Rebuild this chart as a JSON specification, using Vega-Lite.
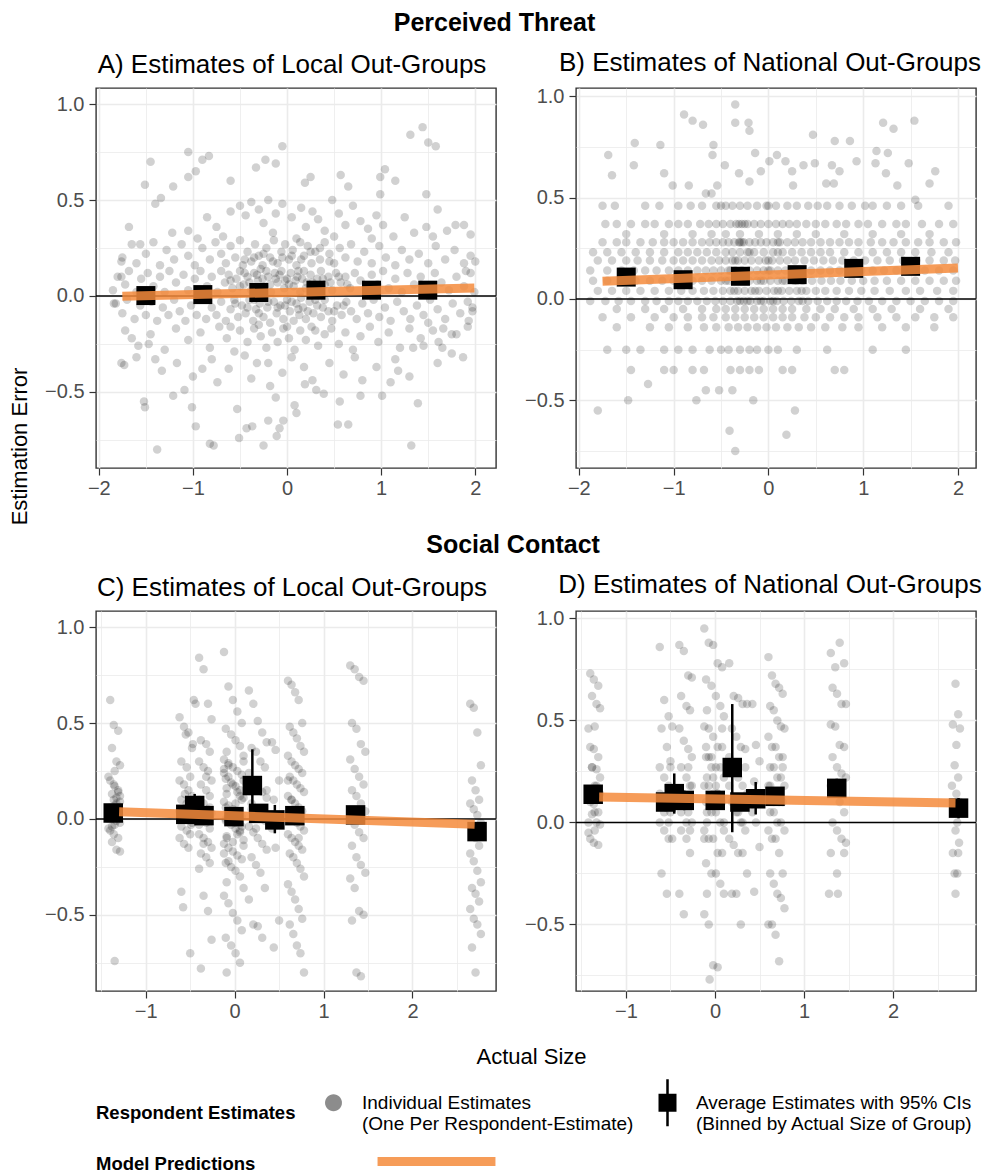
{
"$schema": "https://vega.github.io/schema/vega-lite/v6.json",
"background": "white",
"padding": {"left": 7, "top": 10, "right": 3, "bottom": 3},
"config": {
  "font": "Liberation Sans",
  "view": {"stroke": "#333333", "strokeWidth": 1.4},
  "axis": {"domain": false, "grid": true, "gridColor": "#EBEBEB", "tickColor": "#333333", "tickSize": 7, "tickWidth": 1.2, "labelColor": "#4D4D4D", "labelFontSize": 20, "labelFont": "Liberation Sans", "titleFont": "Liberation Sans", "titleFontSize": 22, "titleFontWeight": "normal", "titleColor": "black", "labelFlush": false, "labelOverlap": false}
},
"datasets": {
"A": [
{"x":1.31,"y":0.84},{"x":1.44,"y":0.88},{"x":1.5,"y":0.8},{"x":1.58,"y":0.78},{"x":-0.05,"y":0.78},{"x":-0.23,"y":0.71},{"x":-0.12,"y":0.69},{"x":-0.33,"y":0.67},{"x":-1.05,"y":0.75},{"x":-0.9,"y":0.71},{"x":-0.83,"y":0.73},{"x":-1.45,"y":0.7},{"x":-0.97,"y":0.65},{"x":-1.05,"y":0.62},{"x":-1.51,"y":0.58},{"x":-1.21,"y":0.57},{"x":-0.6,"y":0.6},{"x":0.19,"y":0.59},{"x":0.25,"y":0.62},{"x":0.57,"y":0.63},{"x":0.65,"y":0.57},{"x":0.99,"y":0.62},{"x":1.04,"y":0.66},{"x":1.15,"y":0.6},{"x":1.48,"y":0.53},{"x":0.99,"y":0.53},{"x":-1.4,"y":0.48},{"x":-1.34,"y":0.51},{"x":-1.68,"y":0.36},{"x":-1.56,"y":0.27},{"x":-1.76,"y":0.18},{"x":-1.76,"y":0.1},{"x":-1.84,"y":-0.04},{"x":1.88,"y":0.37},{"x":1.79,"y":0.37},{"x":1.95,"y":0.32},{"x":2.0,"y":0.18},{"x":1.9,"y":0.13},{"x":1.97,"y":-0.06},{"x":1.93,"y":-0.13},{"x":1.87,"y":-0.32},{"x":1.75,"y":-0.2},{"x":1.66,"y":-0.17},{"x":1.39,"y":-0.56},{"x":1.32,"y":-0.78},{"x":-1.38,"y":-0.8},{"x":-1.52,"y":-0.55},{"x":-1.51,"y":-0.58},{"x":-1.76,"y":-0.35},{"x":-1.73,"y":-0.36},{"x":-1.65,"y":-0.22},{"x":-1.6,"y":-0.32},{"x":-1.47,"y":-0.25},{"x":-1.33,"y":-0.39},{"x":-1.21,"y":-0.52},{"x":-1.17,"y":-0.35},{"x":-1.09,"y":-0.49},{"x":-1.01,"y":-0.58},{"x":-0.97,"y":-0.68},{"x":-0.9,"y":-0.38},{"x":-0.82,"y":-0.77},{"x":-0.78,"y":-0.78},{"x":-0.74,"y":-0.45},{"x":-0.53,"y":-0.59},{"x":-0.51,"y":-0.74},{"x":-0.43,"y":-0.69},{"x":-0.37,"y":-0.68},{"x":-0.32,"y":-0.35},{"x":-0.25,"y":-0.78},{"x":-0.2,"y":-0.65},{"x":-0.11,"y":-0.73},{"x":-0.08,"y":-0.69},{"x":-0.04,"y":-0.65},{"x":-0.18,"y":-0.47},{"x":-0.12,"y":-0.53},{"x":0.08,"y":-0.57},{"x":0.1,"y":-0.61},{"x":0.19,"y":-0.46},{"x":0.31,"y":-0.49},{"x":0.39,"y":-0.51},{"x":0.54,"y":-0.67},{"x":0.65,"y":-0.67},{"x":0.56,"y":-0.55},{"x":0.78,"y":-0.52},{"x":0.8,"y":-0.44},{"x":1.01,"y":-0.52},{"x":1.1,"y":-0.45},{"x":1.18,"y":-0.39},{"x":1.34,"y":-0.27},{"x":1.45,"y":-0.26},{"x":1.61,"y":-0.24},{"x":1.5,"y":-0.14},
{"x":-1.22,"y":0.33},{"x":-1.05,"y":0.34},{"x":-0.85,"y":0.41},{"x":-0.75,"y":0.36},{"x":-0.6,"y":0.44},{"x":-0.5,"y":0.47},{"x":-0.44,"y":0.42},{"x":-0.38,"y":0.49},{"x":-0.3,"y":0.45},{"x":-0.25,"y":0.38},{"x":-0.2,"y":0.5},{"x":-0.12,"y":0.43},{"x":-0.05,"y":0.48},{"x":0.05,"y":0.41},{"x":0.15,"y":0.46},{"x":0.2,"y":0.36},{"x":0.27,"y":0.44},{"x":0.33,"y":0.4},{"x":0.4,"y":0.34},{"x":0.48,"y":0.5},{"x":0.55,"y":0.43},{"x":0.62,"y":0.37},{"x":0.7,"y":0.47},{"x":0.78,"y":0.39},{"x":0.86,"y":0.35},{"x":0.95,"y":0.42},{"x":1.02,"y":0.37},{"x":1.13,"y":0.31},{"x":1.25,"y":0.41},{"x":1.35,"y":0.33},{"x":1.48,"y":0.36},{"x":1.55,"y":0.31},{"x":1.7,"y":0.34},{"x":1.6,"y":0.45},{"x":-0.95,"y":0.3},{"x":-0.68,"y":0.31},{"x":-0.15,"y":0.33},{"x":0.1,"y":0.3},{"x":0.5,"y":0.31},{"x":0.9,"y":0.3},
{"x":-1.75,"y":0.2},{"x":-1.65,"y":0.27},{"x":-1.6,"y":0.17},{"x":-1.5,"y":0.22},{"x":-1.42,"y":0.28},{"x":-1.35,"y":0.16},{"x":-1.28,"y":0.24},{"x":-1.2,"y":0.19},{"x":-1.12,"y":0.27},{"x":-1.05,"y":0.21},{"x":-0.98,"y":0.16},{"x":-0.9,"y":0.25},{"x":-0.82,"y":0.19},{"x":-0.76,"y":0.28},{"x":-0.7,"y":0.22},{"x":-0.65,"y":0.17},{"x":-0.6,"y":0.26},{"x":-0.55,"y":0.2},{"x":-0.5,"y":0.29},{"x":-0.47,"y":0.16},{"x":-0.42,"y":0.23},{"x":-0.38,"y":0.18},{"x":-0.34,"y":0.27},{"x":-0.3,"y":0.21},{"x":-0.26,"y":0.16},{"x":-0.22,"y":0.25},{"x":-0.18,"y":0.2},{"x":-0.14,"y":0.29},{"x":-0.1,"y":0.17},{"x":-0.06,"y":0.23},{"x":-0.02,"y":0.27},{"x":0.02,"y":0.19},{"x":0.06,"y":0.24},{"x":0.1,"y":0.16},{"x":0.14,"y":0.28},{"x":0.18,"y":0.21},{"x":0.22,"y":0.26},{"x":0.26,"y":0.17},{"x":0.3,"y":0.23},{"x":0.35,"y":0.19},{"x":0.4,"y":0.28},{"x":0.45,"y":0.22},{"x":0.5,"y":0.17},{"x":0.56,"y":0.25},{"x":0.62,"y":0.2},{"x":0.68,"y":0.27},{"x":0.75,"y":0.18},{"x":0.82,"y":0.23},{"x":0.9,"y":0.17},{"x":0.98,"y":0.26},{"x":1.05,"y":0.2},{"x":1.15,"y":0.16},{"x":1.22,"y":0.24},{"x":1.3,"y":0.19},{"x":1.4,"y":0.22},{"x":1.5,"y":0.17},{"x":1.58,"y":0.26},{"x":1.68,"y":0.19},{"x":1.78,"y":0.24},{"x":1.88,"y":0.17},{"x":1.95,"y":0.21},{"x":-0.35,"y":0.2},{"x":-0.25,"y":0.22},{"x":-0.15,"y":0.18},{"x":-0.05,"y":0.2},{"x":0.05,"y":0.21},{"x":0.15,"y":0.19},{"x":0.25,"y":0.23},{"x":0.35,"y":0.25},{"x":-0.45,"y":0.19},{"x":0.45,"y":0.18},
{"x":-1.85,"y":0.03},{"x":-1.8,"y":0.1},{"x":-1.72,"y":0.06},{"x":-1.68,"y":0.13},{"x":-1.6,"y":0.02},{"x":-1.55,"y":0.09},{"x":-1.48,"y":0.12},{"x":-1.42,"y":0.05},{"x":-1.35,"y":0.1},{"x":-1.3,"y":0.02},{"x":-1.25,"y":0.13},{"x":-1.18,"y":0.07},{"x":-1.1,"y":0.11},{"x":-1.05,"y":0.03},{"x":-0.98,"y":0.09},{"x":-0.92,"y":0.13},{"x":-0.85,"y":0.05},{"x":-0.8,"y":0.1},{"x":-0.74,"y":0.02},{"x":-0.7,"y":0.13},{"x":-0.66,"y":0.07},{"x":-0.62,"y":0.11},{"x":-0.58,"y":0.04},{"x":-0.54,"y":0.09},{"x":-0.5,"y":0.13},{"x":-0.46,"y":0.06},{"x":-0.42,"y":0.1},{"x":-0.38,"y":0.03},{"x":-0.35,"y":0.12},{"x":-0.31,"y":0.08},{"x":-0.28,"y":0.14},{"x":-0.24,"y":0.05},{"x":-0.2,"y":0.1},{"x":-0.17,"y":0.02},{"x":-0.13,"y":0.12},{"x":-0.1,"y":0.07},{"x":-0.06,"y":0.13},{"x":-0.03,"y":0.04},{"x":0.0,"y":0.09},{"x":0.04,"y":0.12},{"x":0.07,"y":0.05},{"x":0.11,"y":0.1},{"x":0.14,"y":0.02},{"x":0.18,"y":0.13},{"x":0.21,"y":0.07},{"x":0.25,"y":0.11},{"x":0.28,"y":0.03},{"x":0.32,"y":0.09},{"x":0.36,"y":0.13},{"x":0.4,"y":0.06},{"x":0.44,"y":0.1},{"x":0.48,"y":0.03},{"x":0.52,"y":0.12},{"x":0.57,"y":0.07},{"x":0.62,"y":0.1},{"x":0.67,"y":0.04},{"x":0.72,"y":0.12},{"x":0.78,"y":0.08},{"x":0.84,"y":0.03},{"x":0.9,"y":0.11},{"x":0.96,"y":0.06},{"x":1.02,"y":0.13},{"x":1.08,"y":0.04},{"x":1.15,"y":0.09},{"x":1.22,"y":0.02},{"x":1.28,"y":0.12},{"x":1.35,"y":0.06},{"x":1.42,"y":0.1},{"x":1.5,"y":0.04},{"x":1.57,"y":0.12},{"x":1.64,"y":0.07},{"x":1.72,"y":0.03},{"x":1.8,"y":0.1},{"x":1.88,"y":0.05},{"x":1.95,"y":0.12},{"x":1.99,"y":0.02},{"x":-0.6,"y":0.08},{"x":-0.5,"y":0.05},{"x":-0.4,"y":0.07},{"x":-0.32,"y":0.11},{"x":-0.26,"y":0.09},{"x":-0.18,"y":0.06},{"x":-0.12,"y":0.09},{"x":-0.08,"y":0.11},{"x":-0.02,"y":0.08},{"x":0.02,"y":0.06},{"x":0.09,"y":0.08},{"x":0.16,"y":0.09},{"x":0.2,"y":0.04},{"x":0.27,"y":0.07},{"x":0.33,"y":0.05},{"x":0.38,"y":0.09},{"x":0.46,"y":0.07},{"x":0.55,"y":0.1},{"x":0.64,"y":0.06},{"x":-0.45,"y":0.12},{"x":-0.22,"y":0.13},{"x":0.12,"y":0.13},
{"x":-1.82,"y":-0.04},{"x":-1.75,"y":-0.09},{"x":-1.7,"y":-0.02},{"x":-1.62,"y":-0.12},{"x":-1.56,"y":-0.05},{"x":-1.5,"y":-0.1},{"x":-1.44,"y":-0.03},{"x":-1.38,"y":-0.13},{"x":-1.32,"y":-0.06},{"x":-1.26,"y":-0.1},{"x":-1.2,"y":-0.02},{"x":-1.14,"y":-0.08},{"x":-1.08,"y":-0.13},{"x":-1.02,"y":-0.05},{"x":-0.96,"y":-0.1},{"x":-0.9,"y":-0.02},{"x":-0.86,"y":-0.12},{"x":-0.8,"y":-0.06},{"x":-0.75,"y":-0.1},{"x":-0.7,"y":-0.03},{"x":-0.65,"y":-0.13},{"x":-0.6,"y":-0.07},{"x":-0.56,"y":-0.02},{"x":-0.52,"y":-0.11},{"x":-0.48,"y":-0.05},{"x":-0.44,"y":-0.09},{"x":-0.4,"y":-0.02},{"x":-0.36,"y":-0.13},{"x":-0.33,"y":-0.07},{"x":-0.29,"y":-0.04},{"x":-0.25,"y":-0.11},{"x":-0.21,"y":-0.06},{"x":-0.18,"y":-0.14},{"x":-0.14,"y":-0.03},{"x":-0.11,"y":-0.09},{"x":-0.07,"y":-0.05},{"x":-0.04,"y":-0.12},{"x":0.0,"y":-0.02},{"x":0.03,"y":-0.08},{"x":0.07,"y":-0.13},{"x":0.1,"y":-0.04},{"x":0.13,"y":-0.1},{"x":0.17,"y":-0.06},{"x":0.2,"y":-0.12},{"x":0.24,"y":-0.03},{"x":0.28,"y":-0.09},{"x":0.32,"y":-0.05},{"x":0.36,"y":-0.11},{"x":0.4,"y":-0.02},{"x":0.44,"y":-0.08},{"x":0.48,"y":-0.13},{"x":0.53,"y":-0.05},{"x":0.58,"y":-0.1},{"x":0.63,"y":-0.03},{"x":0.68,"y":-0.08},{"x":0.74,"y":-0.12},{"x":0.8,"y":-0.04},{"x":0.86,"y":-0.09},{"x":0.92,"y":-0.02},{"x":0.98,"y":-0.11},{"x":1.04,"y":-0.06},{"x":1.1,"y":-0.13},{"x":1.17,"y":-0.03},{"x":1.24,"y":-0.08},{"x":1.31,"y":-0.12},{"x":1.38,"y":-0.05},{"x":1.45,"y":-0.1},{"x":1.52,"y":-0.02},{"x":1.6,"y":-0.07},{"x":1.68,"y":-0.12},{"x":1.76,"y":-0.04},{"x":1.84,"y":-0.09},{"x":1.92,"y":-0.03},{"x":1.97,"y":-0.08},{"x":-0.55,"y":-0.04},{"x":-0.42,"y":-0.06},{"x":-0.3,"y":-0.09},{"x":-0.2,"y":-0.03},{"x":-0.1,"y":-0.06},{"x":-0.02,"y":-0.05},{"x":0.05,"y":-0.03},{"x":0.12,"y":-0.07},{"x":0.22,"y":-0.08},{"x":0.3,"y":-0.02},{"x":0.38,"y":-0.06},{"x":0.5,"y":-0.08},{"x":0.6,"y":-0.05},{"x":-0.35,"y":-0.02},{"x":0.15,"y":-0.01},
{"x":-1.72,"y":-0.18},{"x":-1.58,"y":-0.26},{"x":-1.45,"y":-0.2},{"x":-1.3,"y":-0.28},{"x":-1.18,"y":-0.17},{"x":-1.05,"y":-0.23},{"x":-0.92,"y":-0.19},{"x":-0.82,"y":-0.27},{"x":-0.72,"y":-0.16},{"x":-0.64,"y":-0.22},{"x":-0.56,"y":-0.29},{"x":-0.5,"y":-0.18},{"x":-0.42,"y":-0.24},{"x":-0.35,"y":-0.17},{"x":-0.28,"y":-0.21},{"x":-0.22,"y":-0.27},{"x":-0.16,"y":-0.19},{"x":-0.1,"y":-0.24},{"x":-0.04,"y":-0.17},{"x":0.02,"y":-0.22},{"x":0.08,"y":-0.28},{"x":0.14,"y":-0.18},{"x":0.2,"y":-0.23},{"x":0.26,"y":-0.16},{"x":0.33,"y":-0.26},{"x":0.4,"y":-0.2},{"x":0.47,"y":-0.17},{"x":0.55,"y":-0.25},{"x":0.62,"y":-0.19},{"x":0.7,"y":-0.28},{"x":0.78,"y":-0.21},{"x":0.88,"y":-0.16},{"x":0.97,"y":-0.24},{"x":1.08,"y":-0.19},{"x":1.2,"y":-0.27},{"x":1.3,"y":-0.17},{"x":1.42,"y":-0.22},{"x":1.55,"y":-0.18},{"x":1.65,"y":-0.27},{"x":1.8,"y":-0.2},{"x":1.92,"y":-0.16},{"x":-0.3,"y":-0.15},{"x":0.0,"y":-0.16},{"x":0.3,"y":-0.18},{"x":-0.6,"y":-0.16},
{"x":-1.4,"y":-0.33},{"x":-1.0,"y":-0.42},{"x":-0.8,"y":-0.33},{"x":-0.62,"y":-0.38},{"x":-0.45,"y":-0.31},{"x":-0.38,"y":-0.43},{"x":-0.2,"y":-0.35},{"x":-0.05,"y":-0.4},{"x":0.05,"y":-0.32},{"x":0.18,"y":-0.37},{"x":0.27,"y":-0.44},{"x":0.45,"y":-0.35},{"x":0.6,"y":-0.41},{"x":0.72,"y":-0.32},{"x":0.95,"y":-0.37},{"x":1.15,"y":-0.33},{"x":1.3,"y":-0.42},{"x":1.6,"y":-0.35},{"x":1.75,"y":-0.3}
],
"B": [
{"x":-0.35,"y":0.96},{"x":-0.89,"y":0.91},{"x":-0.8,"y":0.88},{"x":-0.69,"y":0.86},{"x":-0.35,"y":0.87},{"x":-0.21,"y":0.87},{"x":-0.2,"y":0.83},{"x":0.47,"y":0.81},{"x":1.21,"y":0.87},{"x":1.32,"y":0.84},{"x":1.54,"y":0.88},{"x":0.7,"y":0.78},{"x":0.86,"y":0.78},{"x":-1.69,"y":0.71},{"x":-1.41,"y":0.77},{"x":-1.14,"y":0.76},{"x":-1.42,"y":0.66},{"x":-1.65,"y":0.61},{"x":-1.1,"y":0.62},{"x":-0.58,"y":0.76},{"x":-0.59,"y":0.71},{"x":-0.46,"y":0.66},{"x":-0.14,"y":0.72},{"x":0.01,"y":0.68},{"x":0.09,"y":0.71},{"x":0.18,"y":0.68},{"x":0.25,"y":0.63},{"x":0.37,"y":0.66},{"x":0.49,"y":0.67},{"x":0.67,"y":0.66},{"x":0.75,"y":0.63},{"x":0.93,"y":0.68},{"x":1.14,"y":0.73},{"x":1.26,"y":0.72},{"x":1.13,"y":0.67},{"x":1.48,"y":0.67},{"x":1.76,"y":0.63},{"x":1.7,"y":0.57},{"x":1.36,"y":0.56},{"x":1.24,"y":0.62},{"x":0.61,"y":0.57},{"x":0.69,"y":0.57},{"x":0.26,"y":0.56},{"x":-0.31,"y":0.62},{"x":-0.2,"y":0.58},{"x":-0.08,"y":0.63},{"x":-1.01,"y":0.56},{"x":-0.84,"y":0.56},{"x":-0.54,"y":0.56},{"x":-0.66,"y":0.52},{"x":-0.6,"y":0.52},{"x":1.55,"y":0.49},{"x":-1.48,"y":-0.5},{"x":-1.8,"y":-0.55},{"x":-1.27,"y":-0.42},{"x":-0.76,"y":-0.5},{"x":-0.66,"y":-0.45},{"x":-0.52,"y":-0.45},{"x":-0.38,"y":-0.45},{"x":-0.16,"y":-0.5},{"x":0.28,"y":-0.55},{"x":-0.41,"y":-0.65},{"x":0.19,"y":-0.67},{"x":-0.35,"y":-0.75},
{"x":-1.75,"y":0.46},{"x":-1.62,"y":0.46},{"x":-1.3,"y":0.46},{"x":-1.15,"y":0.46},{"x":-0.95,"y":0.46},{"x":-0.82,"y":0.46},{"x":-0.7,"y":0.46},{"x":-0.55,"y":0.46},{"x":-0.45,"y":0.46},{"x":-0.38,"y":0.46},{"x":-0.3,"y":0.46},{"x":-0.22,"y":0.46},{"x":-0.12,"y":0.46},{"x":-0.02,"y":0.46},{"x":0.08,"y":0.46},{"x":0.2,"y":0.46},{"x":0.3,"y":0.46},{"x":0.42,"y":0.46},{"x":0.52,"y":0.46},{"x":0.62,"y":0.46},{"x":0.75,"y":0.46},{"x":0.88,"y":0.46},{"x":1.02,"y":0.46},{"x":1.1,"y":0.46},{"x":1.25,"y":0.46},{"x":1.4,"y":0.46},{"x":1.58,"y":0.46},{"x":1.9,"y":0.46},{"x":-0.5,"y":0.46},{"x":0.0,"y":0.46},
{"x":-1.72,"y":0.37},{"x":-1.6,"y":0.37},{"x":-1.45,"y":0.37},{"x":-1.3,"y":0.37},{"x":-1.2,"y":0.37},{"x":-1.05,"y":0.37},{"x":-0.95,"y":0.37},{"x":-0.85,"y":0.37},{"x":-0.72,"y":0.37},{"x":-0.63,"y":0.37},{"x":-0.55,"y":0.37},{"x":-0.48,"y":0.37},{"x":-0.4,"y":0.37},{"x":-0.34,"y":0.37},{"x":-0.28,"y":0.37},{"x":-0.22,"y":0.37},{"x":-0.15,"y":0.37},{"x":-0.08,"y":0.37},{"x":0.0,"y":0.37},{"x":0.08,"y":0.37},{"x":0.15,"y":0.37},{"x":0.22,"y":0.37},{"x":0.3,"y":0.37},{"x":0.4,"y":0.37},{"x":0.5,"y":0.37},{"x":0.6,"y":0.37},{"x":0.72,"y":0.37},{"x":0.82,"y":0.37},{"x":0.95,"y":0.37},{"x":1.05,"y":0.37},{"x":1.2,"y":0.37},{"x":1.35,"y":0.37},{"x":1.45,"y":0.37},{"x":1.62,"y":0.37},{"x":1.8,"y":0.37},{"x":1.95,"y":0.37},{"x":-0.31,"y":0.37},{"x":-0.25,"y":0.37},
{"x":-1.5,"y":0.32},{"x":-1.1,"y":0.32},{"x":-0.8,"y":0.32},{"x":-0.6,"y":0.32},{"x":-0.45,"y":0.32},{"x":-0.3,"y":0.32},{"x":-0.1,"y":0.32},{"x":0.1,"y":0.32},{"x":0.3,"y":0.32},{"x":0.5,"y":0.32},{"x":0.8,"y":0.32},{"x":1.1,"y":0.32},{"x":1.4,"y":0.32},{"x":1.7,"y":0.32},
{"x":-1.75,"y":0.28},{"x":-1.6,"y":0.28},{"x":-1.5,"y":0.28},{"x":-1.35,"y":0.28},{"x":-1.22,"y":0.28},{"x":-1.1,"y":0.28},{"x":-1.0,"y":0.28},{"x":-0.9,"y":0.28},{"x":-0.8,"y":0.28},{"x":-0.7,"y":0.28},{"x":-0.62,"y":0.28},{"x":-0.55,"y":0.28},{"x":-0.48,"y":0.28},{"x":-0.42,"y":0.28},{"x":-0.36,"y":0.28},{"x":-0.31,"y":0.28},{"x":-0.26,"y":0.28},{"x":-0.2,"y":0.28},{"x":-0.14,"y":0.28},{"x":-0.08,"y":0.28},{"x":-0.02,"y":0.28},{"x":0.05,"y":0.28},{"x":0.12,"y":0.28},{"x":0.2,"y":0.28},{"x":0.28,"y":0.28},{"x":0.36,"y":0.28},{"x":0.45,"y":0.28},{"x":0.55,"y":0.28},{"x":0.65,"y":0.28},{"x":0.75,"y":0.28},{"x":0.85,"y":0.28},{"x":0.95,"y":0.28},{"x":1.08,"y":0.28},{"x":1.2,"y":0.28},{"x":1.32,"y":0.28},{"x":1.45,"y":0.28},{"x":1.58,"y":0.28},{"x":1.7,"y":0.28},{"x":1.85,"y":0.28},{"x":1.98,"y":0.28},{"x":-0.3,"y":0.28},{"x":-0.28,"y":0.28},{"x":0.1,"y":0.28},
{"x":-1.85,"y":0.23},{"x":-1.7,"y":0.23},{"x":-1.55,"y":0.23},{"x":-1.4,"y":0.23},{"x":-1.25,"y":0.23},{"x":-1.1,"y":0.23},{"x":-0.95,"y":0.23},{"x":-0.85,"y":0.23},{"x":-0.75,"y":0.23},{"x":-0.65,"y":0.23},{"x":-0.55,"y":0.23},{"x":-0.45,"y":0.23},{"x":-0.38,"y":0.23},{"x":-0.3,"y":0.23},{"x":-0.22,"y":0.23},{"x":-0.15,"y":0.23},{"x":-0.05,"y":0.23},{"x":0.05,"y":0.23},{"x":0.15,"y":0.23},{"x":0.25,"y":0.23},{"x":0.35,"y":0.23},{"x":0.45,"y":0.23},{"x":0.55,"y":0.23},{"x":0.65,"y":0.23},{"x":0.8,"y":0.23},{"x":0.95,"y":0.23},{"x":1.1,"y":0.23},{"x":1.25,"y":0.23},{"x":1.4,"y":0.23},{"x":1.55,"y":0.23},{"x":1.72,"y":0.23},{"x":1.9,"y":0.23},{"x":-0.2,"y":0.23},{"x":0.1,"y":0.23},
{"x":-1.8,"y":0.19},{"x":-1.65,"y":0.19},{"x":-1.5,"y":0.19},{"x":-1.38,"y":0.19},{"x":-1.25,"y":0.19},{"x":-1.12,"y":0.19},{"x":-1.0,"y":0.19},{"x":-0.9,"y":0.19},{"x":-0.8,"y":0.19},{"x":-0.7,"y":0.19},{"x":-0.6,"y":0.19},{"x":-0.52,"y":0.19},{"x":-0.45,"y":0.19},{"x":-0.38,"y":0.19},{"x":-0.32,"y":0.19},{"x":-0.25,"y":0.19},{"x":-0.18,"y":0.19},{"x":-0.1,"y":0.19},{"x":-0.03,"y":0.19},{"x":0.04,"y":0.19},{"x":0.12,"y":0.19},{"x":0.2,"y":0.19},{"x":0.28,"y":0.19},{"x":0.38,"y":0.19},{"x":0.48,"y":0.19},{"x":0.58,"y":0.19},{"x":0.68,"y":0.19},{"x":0.78,"y":0.19},{"x":0.9,"y":0.19},{"x":1.02,"y":0.19},{"x":1.15,"y":0.19},{"x":1.28,"y":0.19},{"x":1.42,"y":0.19},{"x":1.56,"y":0.19},{"x":1.7,"y":0.19},{"x":1.85,"y":0.19},{"x":1.97,"y":0.19},{"x":-0.35,"y":0.19},{"x":0.0,"y":0.19},
{"x":-1.88,"y":0.14},{"x":-1.7,"y":0.14},{"x":-1.55,"y":0.14},{"x":-1.42,"y":0.14},{"x":-1.3,"y":0.14},{"x":-1.18,"y":0.14},{"x":-1.05,"y":0.14},{"x":-0.95,"y":0.14},{"x":-0.85,"y":0.14},{"x":-0.75,"y":0.14},{"x":-0.66,"y":0.14},{"x":-0.58,"y":0.14},{"x":-0.5,"y":0.14},{"x":-0.42,"y":0.14},{"x":-0.35,"y":0.14},{"x":-0.28,"y":0.14},{"x":-0.2,"y":0.14},{"x":-0.12,"y":0.14},{"x":-0.05,"y":0.14},{"x":0.02,"y":0.14},{"x":0.1,"y":0.14},{"x":0.18,"y":0.14},{"x":0.26,"y":0.14},{"x":0.35,"y":0.14},{"x":0.45,"y":0.14},{"x":0.55,"y":0.14},{"x":0.65,"y":0.14},{"x":0.75,"y":0.14},{"x":0.85,"y":0.14},{"x":0.98,"y":0.14},{"x":1.1,"y":0.14},{"x":1.22,"y":0.14},{"x":1.35,"y":0.14},{"x":1.5,"y":0.14},{"x":1.65,"y":0.14},{"x":1.8,"y":0.14},{"x":1.95,"y":0.14},{"x":-0.4,"y":0.14},{"x":0.0,"y":0.14},{"x":0.3,"y":0.14},
{"x":-1.85,"y":0.09},{"x":-1.7,"y":0.09},{"x":-1.55,"y":0.09},{"x":-1.4,"y":0.09},{"x":-1.25,"y":0.09},{"x":-1.12,"y":0.09},{"x":-1.0,"y":0.09},{"x":-0.9,"y":0.09},{"x":-0.8,"y":0.09},{"x":-0.7,"y":0.09},{"x":-0.6,"y":0.09},{"x":-0.5,"y":0.09},{"x":-0.42,"y":0.09},{"x":-0.35,"y":0.09},{"x":-0.28,"y":0.09},{"x":-0.2,"y":0.09},{"x":-0.12,"y":0.09},{"x":-0.05,"y":0.09},{"x":0.02,"y":0.09},{"x":0.1,"y":0.09},{"x":0.18,"y":0.09},{"x":0.27,"y":0.09},{"x":0.36,"y":0.09},{"x":0.46,"y":0.09},{"x":0.56,"y":0.09},{"x":0.66,"y":0.09},{"x":0.76,"y":0.09},{"x":0.88,"y":0.09},{"x":1.0,"y":0.09},{"x":1.12,"y":0.09},{"x":1.25,"y":0.09},{"x":1.4,"y":0.09},{"x":1.55,"y":0.09},{"x":1.7,"y":0.09},{"x":1.85,"y":0.09},{"x":1.98,"y":0.09},{"x":-0.45,"y":0.09},{"x":-0.25,"y":0.09},{"x":-0.08,"y":0.09},{"x":0.15,"y":0.09},{"x":0.3,"y":0.09},
{"x":-1.8,"y":0.04},{"x":-1.65,"y":0.04},{"x":-1.5,"y":0.04},{"x":-1.35,"y":0.04},{"x":-1.2,"y":0.04},{"x":-1.05,"y":0.04},{"x":-0.92,"y":0.04},{"x":-0.8,"y":0.04},{"x":-0.68,"y":0.04},{"x":-0.58,"y":0.04},{"x":-0.48,"y":0.04},{"x":-0.4,"y":0.04},{"x":-0.32,"y":0.04},{"x":-0.25,"y":0.04},{"x":-0.18,"y":0.04},{"x":-0.1,"y":0.04},{"x":-0.02,"y":0.04},{"x":0.06,"y":0.04},{"x":0.14,"y":0.04},{"x":0.22,"y":0.04},{"x":0.3,"y":0.04},{"x":0.4,"y":0.04},{"x":0.5,"y":0.04},{"x":0.6,"y":0.04},{"x":0.72,"y":0.04},{"x":0.85,"y":0.04},{"x":0.98,"y":0.04},{"x":1.12,"y":0.04},{"x":1.28,"y":0.04},{"x":1.45,"y":0.04},{"x":1.6,"y":0.04},{"x":1.78,"y":0.04},{"x":1.95,"y":0.04},{"x":-0.36,"y":0.04},{"x":-0.14,"y":0.04},{"x":0.1,"y":0.04},{"x":0.35,"y":0.04},
{"x":-1.88,"y":-0.01},{"x":-1.72,"y":-0.01},{"x":-1.58,"y":-0.01},{"x":-1.45,"y":-0.01},{"x":-1.3,"y":-0.01},{"x":-1.18,"y":-0.01},{"x":-1.05,"y":-0.01},{"x":-0.95,"y":-0.01},{"x":-0.85,"y":-0.01},{"x":-0.75,"y":-0.01},{"x":-0.65,"y":-0.01},{"x":-0.56,"y":-0.01},{"x":-0.48,"y":-0.01},{"x":-0.4,"y":-0.01},{"x":-0.33,"y":-0.01},{"x":-0.26,"y":-0.01},{"x":-0.19,"y":-0.01},{"x":-0.12,"y":-0.01},{"x":-0.05,"y":-0.01},{"x":0.02,"y":-0.01},{"x":0.09,"y":-0.01},{"x":0.16,"y":-0.01},{"x":0.24,"y":-0.01},{"x":0.32,"y":-0.01},{"x":0.42,"y":-0.01},{"x":0.52,"y":-0.01},{"x":0.62,"y":-0.01},{"x":0.72,"y":-0.01},{"x":0.82,"y":-0.01},{"x":0.94,"y":-0.01},{"x":1.06,"y":-0.01},{"x":1.2,"y":-0.01},{"x":1.35,"y":-0.01},{"x":1.5,"y":-0.01},{"x":1.65,"y":-0.01},{"x":1.8,"y":-0.01},{"x":1.95,"y":-0.01},{"x":-0.3,"y":-0.01},{"x":-0.22,"y":-0.01},{"x":-0.08,"y":-0.01},{"x":0.05,"y":-0.01},{"x":0.36,"y":-0.01},
{"x":-1.6,"y":-0.05},{"x":-1.3,"y":-0.05},{"x":-1.1,"y":-0.05},{"x":-0.9,"y":-0.05},{"x":-0.7,"y":-0.05},{"x":-0.55,"y":-0.05},{"x":-0.45,"y":-0.05},{"x":-0.35,"y":-0.05},{"x":-0.25,"y":-0.05},{"x":-0.15,"y":-0.05},{"x":-0.05,"y":-0.05},{"x":0.05,"y":-0.05},{"x":0.15,"y":-0.05},{"x":0.25,"y":-0.05},{"x":0.4,"y":-0.05},{"x":0.55,"y":-0.05},{"x":0.7,"y":-0.05},{"x":0.9,"y":-0.05},{"x":1.1,"y":-0.05},{"x":1.3,"y":-0.05},{"x":1.6,"y":-0.05},{"x":1.9,"y":-0.05},
{"x":-1.75,"y":-0.09},{"x":-1.45,"y":-0.09},{"x":-1.2,"y":-0.09},{"x":-1.0,"y":-0.09},{"x":-0.85,"y":-0.09},{"x":-0.7,"y":-0.09},{"x":-0.58,"y":-0.09},{"x":-0.45,"y":-0.09},{"x":-0.35,"y":-0.09},{"x":-0.25,"y":-0.09},{"x":-0.15,"y":-0.09},{"x":-0.05,"y":-0.09},{"x":0.05,"y":-0.09},{"x":0.15,"y":-0.09},{"x":0.25,"y":-0.09},{"x":0.38,"y":-0.09},{"x":0.5,"y":-0.09},{"x":0.65,"y":-0.09},{"x":0.8,"y":-0.09},{"x":0.95,"y":-0.09},{"x":1.15,"y":-0.09},{"x":1.35,"y":-0.09},{"x":1.55,"y":-0.09},{"x":1.75,"y":-0.09},{"x":1.95,"y":-0.09},
{"x":-1.6,"y":-0.14},{"x":-1.25,"y":-0.14},{"x":-1.05,"y":-0.14},{"x":-0.85,"y":-0.14},{"x":-0.68,"y":-0.14},{"x":-0.55,"y":-0.14},{"x":-0.42,"y":-0.14},{"x":-0.32,"y":-0.14},{"x":-0.22,"y":-0.14},{"x":-0.12,"y":-0.14},{"x":-0.02,"y":-0.14},{"x":0.08,"y":-0.14},{"x":0.2,"y":-0.14},{"x":0.32,"y":-0.14},{"x":0.45,"y":-0.14},{"x":0.6,"y":-0.14},{"x":0.78,"y":-0.14},{"x":0.95,"y":-0.14},{"x":1.2,"y":-0.14},{"x":1.45,"y":-0.14},{"x":1.75,"y":-0.14},
{"x":-1.7,"y":-0.25},{"x":-1.5,"y":-0.25},{"x":-1.35,"y":-0.25},{"x":-1.1,"y":-0.25},{"x":-0.95,"y":-0.25},{"x":-0.8,"y":-0.25},{"x":-0.62,"y":-0.25},{"x":-0.5,"y":-0.25},{"x":-0.42,"y":-0.25},{"x":-0.3,"y":-0.25},{"x":-0.2,"y":-0.25},{"x":-0.12,"y":-0.25},{"x":0.0,"y":-0.25},{"x":0.1,"y":-0.25},{"x":0.3,"y":-0.25},{"x":0.62,"y":-0.25},{"x":1.1,"y":-0.25},{"x":1.45,"y":-0.25},
{"x":-1.45,"y":-0.35},{"x":-1.1,"y":-0.35},{"x":-1.0,"y":-0.35},{"x":-0.8,"y":-0.35},{"x":-0.68,"y":-0.35},{"x":-0.4,"y":-0.35},{"x":-0.3,"y":-0.35},{"x":-0.2,"y":-0.35},{"x":-0.1,"y":-0.35},{"x":0.15,"y":-0.35},{"x":0.25,"y":-0.35},{"x":0.7,"y":-0.35},{"x":0.8,"y":-0.35}
],
"C": [
{"x":-1.40,"y":0.62},{"x":-1.36,"y":0.49},{"x":-1.31,"y":0.46},{"x":-1.38,"y":0.37},{"x":-1.33,"y":0.3},{"x":-1.29,"y":0.28},{"x":-1.35,"y":0.25},{"x":-1.42,"y":0.22},{"x":-1.40,"y":0.2},{"x":-1.36,"y":0.18},{"x":-1.31,"y":0.15},{"x":-1.38,"y":0.13},{"x":-1.33,"y":0.11},{"x":-1.29,"y":0.09},{"x":-1.35,"y":0.07},{"x":-1.42,"y":0.05},{"x":-1.40,"y":0.04},{"x":-1.36,"y":0.02},{"x":-1.31,"y":0.01},{"x":-1.38,"y":0.0},{"x":-1.33,"y":-0.01},{"x":-1.29,"y":-0.02},{"x":-1.35,"y":-0.03},{"x":-1.42,"y":-0.05},{"x":-1.40,"y":-0.06},{"x":-1.36,"y":-0.08},{"x":-1.31,"y":-0.1},{"x":-1.38,"y":-0.12},{"x":-1.33,"y":-0.16},{"x":-1.29,"y":-0.17},{"x":-1.35,"y":-0.74},{"x":-1.42,"y":0.03},{"x":-1.40,"y":0.06},{"x":-1.36,"y":0.1},{"x":-1.31,"y":0.14},{"x":-1.38,"y":-0.04},{"x":-1.33,"y":0.08},{"x":-1.29,"y":0.12},{"x":-1.35,"y":0.17},{"x":-1.42,"y":0.0},
{"x":-0.62,"y":0.53},{"x":-0.57,"y":0.48},{"x":-0.52,"y":0.45},{"x":-0.48,"y":0.37},{"x":-0.6,"y":0.3},{"x":-0.54,"y":0.27},{"x":-0.5,"y":0.22},{"x":-0.62,"y":0.2},{"x":-0.57,"y":0.18},{"x":-0.52,"y":0.15},{"x":-0.48,"y":0.12},{"x":-0.6,"y":0.1},{"x":-0.54,"y":0.08},{"x":-0.5,"y":0.06},{"x":-0.62,"y":0.04},{"x":-0.57,"y":0.02},{"x":-0.52,"y":0.0},{"x":-0.48,"y":-0.02},{"x":-0.6,"y":-0.04},{"x":-0.54,"y":-0.06},{"x":-0.5,"y":-0.08},{"x":-0.62,"y":-0.1},{"x":-0.57,"y":-0.13},{"x":-0.52,"y":-0.15},{"x":-0.6,"y":-0.38},{"x":-0.58,"y":-0.46},{"x":-0.5,"y":-0.7},{"x":-0.44,"y":0.6},{"x":-0.46,"y":0.62},{"x":-0.55,"y":0.44},{"x":-0.47,"y":0.39},{"x":-0.58,"y":0.05},{"x":-0.49,"y":-0.03},{"x":-0.56,"y":0.13},
{"x":-0.4,"y":0.84},{"x":-0.35,"y":0.78},{"x":-0.3,"y":0.6},{"x":-0.26,"y":0.52},{"x":-0.38,"y":0.41},{"x":-0.32,"y":0.39},{"x":-0.28,"y":0.35},{"x":-0.4,"y":0.3},{"x":-0.35,"y":0.27},{"x":-0.3,"y":0.25},{"x":-0.26,"y":0.2},{"x":-0.38,"y":0.18},{"x":-0.32,"y":0.15},{"x":-0.28,"y":0.12},{"x":-0.4,"y":0.1},{"x":-0.35,"y":0.08},{"x":-0.3,"y":0.05},{"x":-0.26,"y":0.03},{"x":-0.38,"y":0.01},{"x":-0.32,"y":-0.02},{"x":-0.28,"y":-0.05},{"x":-0.4,"y":-0.08},{"x":-0.35,"y":-0.1},{"x":-0.3,"y":-0.12},{"x":-0.26,"y":-0.15},{"x":-0.38,"y":-0.18},{"x":-0.32,"y":-0.2},{"x":-0.28,"y":-0.23},{"x":-0.4,"y":-0.26},{"x":-0.35,"y":-0.4},{"x":-0.3,"y":-0.48},{"x":-0.26,"y":-0.63},{"x":-0.38,"y":-0.78},{"x":-0.32,"y":0.22},{"x":-0.28,"y":0.06},{"x":-0.4,"y":-0.03},{"x":-0.35,"y":-0.13},
{"x":-0.12,"y":0.87},{"x":-0.07,"y":0.69},{"x":-0.02,"y":0.62},{"x":0.03,"y":0.56},{"x":0.08,"y":0.5},{"x":-0.1,"y":0.47},{"x":-0.04,"y":0.44},{"x":0.01,"y":0.41},{"x":0.06,"y":0.38},{"x":-0.09,"y":0.35},{"x":0.1,"y":0.33},{"x":-0.12,"y":0.31},{"x":-0.07,"y":0.29},{"x":-0.02,"y":0.27},{"x":0.03,"y":0.25},{"x":0.08,"y":0.23},{"x":-0.1,"y":0.21},{"x":-0.04,"y":0.19},{"x":0.01,"y":0.17},{"x":0.06,"y":0.15},{"x":-0.09,"y":0.13},{"x":0.1,"y":0.11},{"x":-0.12,"y":0.09},{"x":-0.07,"y":0.07},{"x":-0.02,"y":0.05},{"x":0.03,"y":0.03},{"x":0.08,"y":0.01},{"x":-0.1,"y":-0.01},{"x":-0.04,"y":-0.03},{"x":0.01,"y":-0.05},{"x":0.06,"y":-0.07},{"x":-0.09,"y":-0.09},{"x":0.1,"y":-0.11},{"x":-0.12,"y":-0.13},{"x":-0.07,"y":-0.15},{"x":-0.02,"y":-0.17},{"x":0.03,"y":-0.19},{"x":0.08,"y":-0.21},{"x":-0.1,"y":-0.23},{"x":-0.04,"y":-0.25},{"x":0.01,"y":-0.27},{"x":0.06,"y":-0.3},{"x":-0.09,"y":-0.33},{"x":0.1,"y":-0.36},{"x":-0.12,"y":-0.4},{"x":-0.07,"y":-0.44},{"x":-0.02,"y":-0.49},{"x":0.03,"y":-0.53},{"x":0.08,"y":-0.58},{"x":-0.1,"y":-0.62},{"x":-0.04,"y":-0.66},{"x":0.01,"y":-0.7},{"x":0.06,"y":-0.75},{"x":-0.09,"y":-0.8},{"x":0.1,"y":0.3},{"x":-0.12,"y":0.26},{"x":-0.07,"y":0.22},{"x":-0.02,"y":0.18},{"x":0.03,"y":0.14},{"x":0.08,"y":0.1},{"x":-0.1,"y":0.06},{"x":-0.04,"y":0.02},{"x":0.01,"y":-0.02},{"x":0.06,"y":-0.06},{"x":-0.09,"y":-0.1},{"x":0.1,"y":-0.14},{"x":-0.12,"y":-0.18},{"x":-0.07,"y":-0.22},{"x":-0.02,"y":-0.12},{"x":0.03,"y":-0.08},{"x":0.08,"y":-0.04},{"x":-0.1,"y":0.0},{"x":-0.04,"y":0.04},{"x":0.01,"y":0.08},{"x":0.06,"y":0.12},{"x":-0.09,"y":0.16},{"x":0.1,"y":0.2},{"x":-0.12,"y":0.24},{"x":-0.07,"y":0.28},
{"x":0.16,"y":0.67},{"x":0.21,"y":0.6},{"x":0.26,"y":0.51},{"x":0.31,"y":0.45},{"x":0.36,"y":0.4},{"x":0.19,"y":0.37},{"x":0.24,"y":0.35},{"x":0.29,"y":0.3},{"x":0.34,"y":0.27},{"x":0.16,"y":0.24},{"x":0.21,"y":0.2},{"x":0.26,"y":0.17},{"x":0.31,"y":0.14},{"x":0.36,"y":0.11},{"x":0.19,"y":0.08},{"x":0.24,"y":0.05},{"x":0.29,"y":0.02},{"x":0.34,"y":-0.01},{"x":0.16,"y":-0.04},{"x":0.21,"y":-0.07},{"x":0.26,"y":-0.1},{"x":0.31,"y":-0.13},{"x":0.36,"y":-0.16},{"x":0.19,"y":-0.2},{"x":0.24,"y":-0.24},{"x":0.29,"y":-0.28},{"x":0.34,"y":-0.36},{"x":0.16,"y":-0.42},{"x":0.21,"y":-0.55},{"x":0.26,"y":-0.56},{"x":0.31,"y":-0.62},{"x":0.36,"y":0.15},{"x":0.19,"y":0.05},{"x":0.24,"y":-0.05},
{"x":0.42,"y":0.4},{"x":0.46,"y":0.36},{"x":0.5,"y":0.2},{"x":0.44,"y":0.1},{"x":0.48,"y":0.02},{"x":0.42,"y":-0.05},{"x":0.46,"y":-0.15},{"x":0.5,"y":-0.53},{"x":0.44,"y":-0.67},
{"x":0.6,"y":0.72},{"x":0.64,"y":0.7},{"x":0.68,"y":0.66},{"x":0.72,"y":0.62},{"x":0.76,"y":0.5},{"x":0.62,"y":0.48},{"x":0.66,"y":0.45},{"x":0.7,"y":0.42},{"x":0.74,"y":0.38},{"x":0.78,"y":0.35},{"x":0.6,"y":0.33},{"x":0.64,"y":0.3},{"x":0.68,"y":0.28},{"x":0.72,"y":0.26},{"x":0.76,"y":0.24},{"x":0.62,"y":0.22},{"x":0.66,"y":0.2},{"x":0.7,"y":0.18},{"x":0.74,"y":0.16},{"x":0.78,"y":0.14},{"x":0.6,"y":0.12},{"x":0.64,"y":0.1},{"x":0.68,"y":0.08},{"x":0.72,"y":0.06},{"x":0.76,"y":0.04},{"x":0.62,"y":0.02},{"x":0.66,"y":0.0},{"x":0.7,"y":-0.02},{"x":0.74,"y":-0.04},{"x":0.78,"y":-0.06},{"x":0.6,"y":-0.08},{"x":0.64,"y":-0.1},{"x":0.68,"y":-0.12},{"x":0.72,"y":-0.14},{"x":0.76,"y":-0.16},{"x":0.62,"y":-0.18},{"x":0.66,"y":-0.2},{"x":0.7,"y":-0.23},{"x":0.74,"y":-0.26},{"x":0.78,"y":-0.3},{"x":0.6,"y":-0.34},{"x":0.64,"y":-0.38},{"x":0.68,"y":-0.42},{"x":0.72,"y":-0.47},{"x":0.76,"y":-0.52},{"x":0.62,"y":-0.55},{"x":0.66,"y":-0.6},{"x":0.7,"y":-0.66},{"x":0.74,"y":-0.7},{"x":0.78,"y":-0.8},{"x":0.6,"y":0.2},{"x":0.64,"y":0.1},{"x":0.68,"y":0.0},{"x":0.72,"y":-0.1},
{"x":1.3,"y":0.8},{"x":1.35,"y":0.78},{"x":1.4,"y":0.74},{"x":1.45,"y":0.72},{"x":1.32,"y":0.5},{"x":1.37,"y":0.47},{"x":1.42,"y":0.39},{"x":1.47,"y":0.35},{"x":1.3,"y":0.31},{"x":1.35,"y":0.26},{"x":1.4,"y":0.22},{"x":1.45,"y":0.18},{"x":1.32,"y":0.15},{"x":1.37,"y":0.12},{"x":1.42,"y":0.08},{"x":1.47,"y":0.04},{"x":1.3,"y":0.0},{"x":1.35,"y":-0.03},{"x":1.4,"y":-0.07},{"x":1.45,"y":-0.1},{"x":1.32,"y":-0.14},{"x":1.37,"y":-0.2},{"x":1.42,"y":-0.24},{"x":1.47,"y":-0.28},{"x":1.3,"y":-0.31},{"x":1.35,"y":-0.36},{"x":1.4,"y":-0.48},{"x":1.45,"y":-0.5},{"x":1.32,"y":-0.53},{"x":1.37,"y":-0.8},{"x":1.42,"y":-0.82},
{"x":2.65,"y":0.6},{"x":2.69,"y":0.58},{"x":2.73,"y":0.45},{"x":2.77,"y":0.28},{"x":2.67,"y":0.2},{"x":2.71,"y":0.15},{"x":2.75,"y":0.1},{"x":2.65,"y":0.08},{"x":2.69,"y":0.05},{"x":2.73,"y":0.02},{"x":2.77,"y":-0.02},{"x":2.67,"y":-0.05},{"x":2.71,"y":-0.1},{"x":2.75,"y":-0.14},{"x":2.65,"y":-0.18},{"x":2.69,"y":-0.22},{"x":2.73,"y":-0.27},{"x":2.77,"y":-0.33},{"x":2.67,"y":-0.36},{"x":2.71,"y":-0.39},{"x":2.75,"y":-0.43},{"x":2.65,"y":-0.47},{"x":2.69,"y":-0.52},{"x":2.73,"y":-0.55},{"x":2.77,"y":-0.6},{"x":2.67,"y":-0.67},{"x":2.71,"y":-0.8}
],
"D": [
{"x":-1.40,"y":0.73},{"x":-1.36,"y":0.7},{"x":-1.31,"y":0.67},{"x":-1.38,"y":0.62},{"x":-1.33,"y":0.58},{"x":-1.29,"y":0.56},{"x":-1.35,"y":0.47},{"x":-1.42,"y":0.46},{"x":-1.40,"y":0.37},{"x":-1.36,"y":0.36},{"x":-1.31,"y":0.32},{"x":-1.38,"y":0.27},{"x":-1.33,"y":0.26},{"x":-1.29,"y":0.22},{"x":-1.35,"y":0.18},{"x":-1.42,"y":0.14},{"x":-1.40,"y":0.1},{"x":-1.36,"y":0.09},{"x":-1.31,"y":0.05},{"x":-1.38,"y":0.04},{"x":-1.33,"y":0.0},{"x":-1.29,"y":-0.01},{"x":-1.35,"y":-0.04},{"x":-1.42,"y":-0.05},{"x":-1.40,"y":-0.08},{"x":-1.36,"y":-0.1},{"x":-1.31,"y":-0.11},{"x":-1.38,"y":0.27},{"x":-1.33,"y":0.18},{"x":-1.29,"y":0.14},{"x":-1.35,"y":0.05},{"x":-1.42,"y":0.0},
{"x":-0.62,"y":0.86},{"x":-0.57,"y":0.6},{"x":-0.52,"y":0.52},{"x":-0.48,"y":0.47},{"x":-0.6,"y":0.46},{"x":-0.54,"y":0.37},{"x":-0.5,"y":0.3},{"x":-0.62,"y":0.27},{"x":-0.57,"y":0.22},{"x":-0.52,"y":0.18},{"x":-0.48,"y":0.14},{"x":-0.6,"y":0.1},{"x":-0.54,"y":0.09},{"x":-0.5,"y":0.05},{"x":-0.62,"y":0.0},{"x":-0.57,"y":-0.04},{"x":-0.52,"y":-0.08},{"x":-0.48,"y":-0.08},{"x":-0.6,"y":-0.25},{"x":-0.54,"y":-0.35},{"x":-0.5,"y":0.27},{"x":-0.62,"y":0.14},{"x":-0.57,"y":0.05},{"x":-0.52,"y":0.0},
{"x":-0.4,"y":0.87},{"x":-0.35,"y":0.84},{"x":-0.3,"y":0.72},{"x":-0.26,"y":0.71},{"x":-0.38,"y":0.62},{"x":-0.32,"y":0.57},{"x":-0.28,"y":0.55},{"x":-0.4,"y":0.46},{"x":-0.35,"y":0.4},{"x":-0.3,"y":0.36},{"x":-0.26,"y":0.32},{"x":-0.38,"y":0.27},{"x":-0.32,"y":0.22},{"x":-0.28,"y":0.18},{"x":-0.4,"y":0.14},{"x":-0.35,"y":0.1},{"x":-0.3,"y":0.05},{"x":-0.26,"y":0.0},{"x":-0.38,"y":-0.04},{"x":-0.32,"y":-0.08},{"x":-0.28,"y":-0.15},{"x":-0.4,"y":-0.35},{"x":-0.35,"y":-0.45},{"x":-0.3,"y":0.27},{"x":-0.26,"y":0.18},{"x":-0.38,"y":0.05},{"x":-0.32,"y":0.0},{"x":-0.28,"y":-0.04},
{"x":-0.12,"y":0.95},{"x":-0.07,"y":0.88},{"x":-0.02,"y":0.87},{"x":0.03,"y":0.78},{"x":0.08,"y":0.76},{"x":-0.1,"y":0.7},{"x":-0.04,"y":0.67},{"x":0.01,"y":0.62},{"x":0.06,"y":0.57},{"x":-0.09,"y":0.55},{"x":0.1,"y":0.52},{"x":-0.12,"y":0.47},{"x":-0.07,"y":0.46},{"x":-0.02,"y":0.42},{"x":0.03,"y":0.37},{"x":0.08,"y":0.37},{"x":-0.1,"y":0.32},{"x":-0.04,"y":0.32},{"x":0.01,"y":0.27},{"x":0.06,"y":0.27},{"x":-0.09,"y":0.22},{"x":0.1,"y":0.22},{"x":-0.12,"y":0.18},{"x":-0.07,"y":0.18},{"x":-0.02,"y":0.14},{"x":0.03,"y":0.14},{"x":0.08,"y":0.1},{"x":-0.1,"y":0.1},{"x":-0.04,"y":0.05},{"x":0.01,"y":0.05},{"x":0.06,"y":0.0},{"x":-0.09,"y":0.0},{"x":0.1,"y":-0.04},{"x":-0.12,"y":-0.04},{"x":-0.07,"y":-0.08},{"x":-0.02,"y":-0.08},{"x":0.03,"y":-0.15},{"x":0.08,"y":-0.15},{"x":-0.1,"y":-0.2},{"x":-0.04,"y":-0.25},{"x":0.01,"y":-0.25},{"x":0.06,"y":-0.3},{"x":-0.09,"y":-0.35},{"x":0.1,"y":-0.35},{"x":-0.12,"y":-0.45},{"x":-0.07,"y":-0.5},{"x":-0.02,"y":-0.7},{"x":0.03,"y":-0.71},{"x":-0.06,"y":-0.77},{"x":-0.1,"y":0.37},{"x":-0.04,"y":0.27},{"x":0.01,"y":0.18},{"x":0.06,"y":0.1},{"x":-0.09,"y":0.05},{"x":0.1,"y":0.0},{"x":-0.12,"y":-0.08},{"x":-0.07,"y":0.32},{"x":-0.02,"y":0.22},{"x":0.03,"y":0.14},{"x":0.08,"y":0.46},
{"x":0.16,"y":0.78},{"x":0.21,"y":0.62},{"x":0.26,"y":0.61},{"x":0.31,"y":0.58},{"x":0.36,"y":0.58},{"x":0.19,"y":0.46},{"x":0.24,"y":0.42},{"x":0.29,"y":0.37},{"x":0.34,"y":0.36},{"x":0.16,"y":0.32},{"x":0.21,"y":0.27},{"x":0.26,"y":0.22},{"x":0.31,"y":0.18},{"x":0.36,"y":0.14},{"x":0.19,"y":0.1},{"x":0.24,"y":0.05},{"x":0.29,"y":0.0},{"x":0.34,"y":-0.04},{"x":0.16,"y":-0.08},{"x":0.21,"y":-0.11},{"x":0.26,"y":-0.15},{"x":0.31,"y":-0.15},{"x":0.36,"y":-0.25},{"x":0.19,"y":-0.35},{"x":0.24,"y":-0.35},{"x":0.29,"y":-0.5},{"x":0.34,"y":0.27},{"x":0.16,"y":0.18},{"x":0.21,"y":0.1},{"x":0.26,"y":0.05},{"x":0.31,"y":0.0},
{"x":0.42,"y":0.58},{"x":0.46,"y":0.38},{"x":0.5,"y":0.3},{"x":0.44,"y":0.2},{"x":0.48,"y":0.14},{"x":0.42,"y":0.05},{"x":0.46,"y":0.0},{"x":0.5,"y":-0.12},{"x":0.44,"y":-0.34},
{"x":0.6,"y":0.81},{"x":0.64,"y":0.72},{"x":0.68,"y":0.68},{"x":0.72,"y":0.66},{"x":0.76,"y":0.63},{"x":0.62,"y":0.57},{"x":0.66,"y":0.55},{"x":0.7,"y":0.5},{"x":0.74,"y":0.47},{"x":0.78,"y":0.46},{"x":0.6,"y":0.42},{"x":0.64,"y":0.37},{"x":0.68,"y":0.37},{"x":0.72,"y":0.32},{"x":0.76,"y":0.32},{"x":0.62,"y":0.27},{"x":0.66,"y":0.27},{"x":0.7,"y":0.22},{"x":0.74,"y":0.22},{"x":0.78,"y":0.18},{"x":0.6,"y":0.18},{"x":0.64,"y":0.14},{"x":0.68,"y":0.14},{"x":0.72,"y":0.1},{"x":0.76,"y":0.1},{"x":0.62,"y":0.05},{"x":0.66,"y":0.05},{"x":0.7,"y":0.0},{"x":0.74,"y":0.0},{"x":0.78,"y":-0.04},{"x":0.6,"y":-0.04},{"x":0.64,"y":-0.08},{"x":0.68,"y":-0.08},{"x":0.72,"y":-0.15},{"x":0.76,"y":-0.25},{"x":0.62,"y":-0.25},{"x":0.66,"y":-0.3},{"x":0.7,"y":-0.35},{"x":0.74,"y":-0.37},{"x":0.78,"y":-0.42},{"x":0.6,"y":-0.5},{"x":0.64,"y":-0.5},{"x":0.68,"y":-0.55},{"x":0.72,"y":-0.68},{"x":0.76,"y":0.27},{"x":0.62,"y":0.18},{"x":0.66,"y":0.1},
{"x":1.3,"y":0.83},{"x":1.35,"y":0.76},{"x":1.4,"y":0.88},{"x":1.45,"y":0.78},{"x":1.32,"y":0.66},{"x":1.37,"y":0.63},{"x":1.42,"y":0.58},{"x":1.47,"y":0.58},{"x":1.3,"y":0.48},{"x":1.35,"y":0.47},{"x":1.4,"y":0.38},{"x":1.45,"y":0.37},{"x":1.32,"y":0.32},{"x":1.37,"y":0.27},{"x":1.42,"y":0.24},{"x":1.47,"y":0.22},{"x":1.3,"y":0.18},{"x":1.35,"y":0.14},{"x":1.4,"y":0.1},{"x":1.45,"y":0.05},{"x":1.32,"y":0.0},{"x":1.37,"y":-0.04},{"x":1.42,"y":-0.08},{"x":1.47,"y":-0.1},{"x":1.3,"y":-0.15},{"x":1.45,"y":-0.15},{"x":1.37,"y":-0.25},{"x":1.28,"y":-0.35},{"x":1.38,"y":-0.35},
{"x":2.7,"y":0.68},{"x":2.73,"y":0.53},{"x":2.67,"y":0.48},{"x":2.75,"y":0.46},{"x":2.71,"y":0.38},{"x":2.69,"y":0.28},{"x":2.73,"y":0.22},{"x":2.66,"y":0.18},{"x":2.71,"y":0.14},{"x":2.75,"y":0.1},{"x":2.68,"y":0.05},{"x":2.72,"y":0.0},{"x":2.7,"y":-0.04},{"x":2.74,"y":-0.1},{"x":2.67,"y":-0.15},{"x":2.73,"y":-0.15},{"x":2.69,"y":-0.25},{"x":2.72,"y":-0.25},{"x":2.7,"y":-0.35}
],
"Aavg": [{"x":-1.5,"y":0.002,"lo":-0.02,"hi":0.024},{"x":-0.895,"y":0.007,"lo":-0.015,"hi":0.029},{"x":-0.3,"y":0.018,"lo":0.003,"hi":0.033},{"x":0.307,"y":0.03,"lo":0.015,"hi":0.045},{"x":0.897,"y":0.03,"lo":0.012,"hi":0.048},{"x":1.495,"y":0.03,"lo":0.008,"hi":0.052}],
"Bavg": [{"x":-1.5,"y":0.108,"lo":0.085,"hi":0.131},{"x":-0.9,"y":0.095,"lo":0.075,"hi":0.115},{"x":-0.295,"y":0.112,"lo":0.097,"hi":0.127},{"x":0.303,"y":0.12,"lo":0.104,"hi":0.136},{"x":0.9,"y":0.151,"lo":0.131,"hi":0.171},{"x":1.5,"y":0.161,"lo":0.138,"hi":0.184}],
"Cavg": [{"x":-1.366,"y":0.031,"lo":0.0,"hi":0.062},{"x":-0.55,"y":0.024,"lo":-0.015,"hi":0.063},{"x":-0.45,"y":0.07,"lo":0.01,"hi":0.13},{"x":-0.345,"y":0.017,"lo":-0.02,"hi":0.054},{"x":-0.008,"y":0.012,"lo":-0.015,"hi":0.039},{"x":0.199,"y":0.174,"lo":-0.01,"hi":0.363},{"x":0.27,"y":0.029,"lo":-0.01,"hi":0.068},{"x":0.452,"y":-0.005,"lo":-0.075,"hi":0.073},{"x":0.677,"y":0.017,"lo":-0.012,"hi":0.046},{"x":1.36,"y":0.021,"lo":-0.025,"hi":0.067},{"x":2.727,"y":-0.066,"lo":-0.11,"hi":-0.022}],
"Davg": [{"x":-1.367,"y":0.138,"lo":0.1,"hi":0.176},{"x":-0.554,"y":0.1,"lo":0.055,"hi":0.145},{"x":-0.457,"y":0.141,"lo":0.043,"hi":0.24},{"x":-0.345,"y":0.108,"lo":0.06,"hi":0.156},{"x":0.003,"y":0.108,"lo":0.08,"hi":0.136},{"x":0.194,"y":0.269,"lo":-0.048,"hi":0.58},{"x":0.28,"y":0.1,"lo":0.06,"hi":0.14},{"x":0.457,"y":0.116,"lo":0.039,"hi":0.198},{"x":0.674,"y":0.128,"lo":0.1,"hi":0.156},{"x":1.367,"y":0.167,"lo":0.12,"hi":0.214},{"x":2.734,"y":0.07,"lo":0.02,"hi":0.12}],
"Aline": [{"x":-1.75,"y":-0.002},{"x":1.99,"y":0.042}],
"Bline": [{"x":-1.75,"y":0.087},{"x":2.0,"y":0.153}],
"Cline": [{"x":-1.3,"y":0.038,"s":"Model Predictions"},{"x":2.7,"y":-0.028,"s":"Model Predictions"}],
"Dline": [{"x":-1.3,"y":0.125},{"x":2.7,"y":0.095}]
},
"spacing": 6,
"vconcat": [
{
 "title": {"text": "Perceived Threat", "fontSize": 25, "fontWeight": "bold", "color": "black", "font": "Liberation Sans", "anchor": "middle", "offset": 14},
 "spacing": 80, "bounds": "flush",
 "hconcat": [
  {
   "title": {"text": "A) Estimates of Local Out-Groups", "fontSize": 26, "fontWeight": "normal", "color": "black", "font": "Liberation Sans", "anchor": "middle", "offset": 10, "dx": -4},
   "width": 400, "height": 380,
   "layer": [
    {"data": {"name": "A"}, "mark": {"type": "circle", "size": 72, "color": "black", "opacity": 0.18},
     "encoding": {
      "x": {"field": "x", "type": "quantitative", "scale": {"domain": [-2.03, 2.22], "nice": false, "zero": false},
            "axis": {"values": [-2,-1.5,-1,-0.5,0,0.5,1,1.5,2], "format": ".0f", "labelPadding": 3, "labelExpr": "abs(datum.value - round(datum.value)) < 0.001 ? datum.label : ''", "gridWidth": {"condition": {"test": "abs(datum.value - round(datum.value)) > 0.001", "value": 0.8}, "value": 1.6}, "tickOpacity": {"condition": {"test": "abs(datum.value - round(datum.value)) > 0.001", "value": 0}, "value": 1}, "title": null}},
      "y": {"field": "y", "type": "quantitative", "scale": {"domain": [-0.897, 1.084], "nice": false, "zero": false},
            "axis": {"values": [-0.75,-0.5,-0.25,0,0.25,0.5,0.75,1], "format": ".1f", "labelPadding": 5, "labelExpr": "abs(datum.value*2 - round(datum.value*2)) < 0.001 ? datum.label : ''", "gridWidth": {"condition": {"test": "abs(datum.value*2 - round(datum.value*2)) > 0.001", "value": 0.8}, "value": 1.6}, "tickOpacity": {"condition": {"test": "abs(datum.value*2 - round(datum.value*2)) > 0.001", "value": 0}, "value": 1}, "title": "Estimation Error", "titleX": -77, "titleY": 358, "titleAngle": 270, "titleAlign": "center", "titleBaseline": "middle"}}
     }},
    {"data": {"values": [{"v": 0}]}, "mark": {"type": "rule", "color": "black", "strokeWidth": 1.6},
     "encoding": {"y": {"field": "v", "type": "quantitative"}}},
    {"data": {"name": "Aavg"}, "mark": {"type": "rule", "color": "black", "strokeWidth": 2.5},
     "encoding": {"x": {"field": "x", "type": "quantitative"}, "y": {"field": "lo", "type": "quantitative"}, "y2": {"field": "hi"}}},
    {"data": {"name": "Aavg"}, "mark": {"type": "square", "size": 361, "color": "black", "opacity": 1},
     "encoding": {"x": {"field": "x", "type": "quantitative"}, "y": {"field": "y", "type": "quantitative"}}},
    {"data": {"name": "Aline"}, "mark": {"type": "line", "color": "#F58B3C", "strokeWidth": 9, "opacity": 0.85, "strokeCap": "butt"},
     "encoding": {"x": {"field": "x", "type": "quantitative"}, "y": {"field": "y", "type": "quantitative"}}}
   ]
  },
  {
   "title": {"text": "B) Estimates of National Out-Groups", "fontSize": 26, "fontWeight": "normal", "color": "black", "font": "Liberation Sans", "anchor": "middle", "offset": 10, "dx": -6},
   "width": 400, "height": 380,
   "layer": [
    {"data": {"name": "B"}, "mark": {"type": "circle", "size": 72, "color": "black", "opacity": 0.18},
     "encoding": {
      "x": {"field": "x", "type": "quantitative", "scale": {"domain": [-2.03, 2.19], "nice": false, "zero": false},
            "axis": {"values": [-2,-1.5,-1,-0.5,0,0.5,1,1.5,2], "format": ".0f", "labelPadding": 3, "labelExpr": "abs(datum.value - round(datum.value)) < 0.001 ? datum.label : ''", "gridWidth": {"condition": {"test": "abs(datum.value - round(datum.value)) > 0.001", "value": 0.8}, "value": 1.6}, "tickOpacity": {"condition": {"test": "abs(datum.value - round(datum.value)) > 0.001", "value": 0}, "value": 1}, "title": null}},
      "y": {"field": "y", "type": "quantitative", "scale": {"domain": [-0.834, 1.041], "nice": false, "zero": false},
            "axis": {"values": [-0.75,-0.5,-0.25,0,0.25,0.5,0.75,1], "format": ".1f", "labelPadding": 5, "labelExpr": "abs(datum.value*2 - round(datum.value*2)) < 0.001 ? datum.label : ''", "gridWidth": {"condition": {"test": "abs(datum.value*2 - round(datum.value*2)) > 0.001", "value": 0.8}, "value": 1.6}, "tickOpacity": {"condition": {"test": "abs(datum.value*2 - round(datum.value*2)) > 0.001", "value": 0}, "value": 1}, "title": null}}
     }},
    {"data": {"values": [{"v": 0}]}, "mark": {"type": "rule", "color": "black", "strokeWidth": 1.6},
     "encoding": {"y": {"field": "v", "type": "quantitative"}}},
    {"data": {"name": "Bavg"}, "mark": {"type": "rule", "color": "black", "strokeWidth": 2.5},
     "encoding": {"x": {"field": "x", "type": "quantitative"}, "y": {"field": "lo", "type": "quantitative"}, "y2": {"field": "hi"}}},
    {"data": {"name": "Bavg"}, "mark": {"type": "square", "size": 361, "color": "black", "opacity": 1},
     "encoding": {"x": {"field": "x", "type": "quantitative"}, "y": {"field": "y", "type": "quantitative"}}},
    {"data": {"name": "Bline"}, "mark": {"type": "line", "color": "#F58B3C", "strokeWidth": 9, "opacity": 0.85, "strokeCap": "butt"},
     "encoding": {"x": {"field": "x", "type": "quantitative"}, "y": {"field": "y", "type": "quantitative"}}}
   ]
  }
 ]
},
{
 "title": {"text": "Social Contact", "fontSize": 25, "fontWeight": "bold", "color": "black", "font": "Liberation Sans", "anchor": "middle", "offset": 14},
 "spacing": 80, "bounds": "flush",
 "hconcat": [
  {
   "title": {"text": "C) Estimates of Local Out-Groups", "fontSize": 26, "fontWeight": "normal", "color": "black", "font": "Liberation Sans", "anchor": "middle", "offset": 10, "dx": -4},
   "width": 400, "height": 380,
   "layer": [
    {"data": {"name": "C"}, "mark": {"type": "circle", "size": 72, "color": "black", "opacity": 0.18},
     "encoding": {
      "x": {"field": "x", "type": "quantitative", "scale": {"domain": [-1.56, 2.94], "nice": false, "zero": false},
            "axis": {"values": [-1.5,-1,-0.5,0,0.5,1,1.5,2,2.5], "format": ".0f", "labelPadding": 3, "labelExpr": "abs(datum.value - round(datum.value)) < 0.001 ? datum.label : ''", "gridWidth": {"condition": {"test": "abs(datum.value - round(datum.value)) > 0.001", "value": 0.8}, "value": 1.6}, "tickOpacity": {"condition": {"test": "abs(datum.value - round(datum.value)) > 0.001", "value": 0}, "value": 1}, "title": "Actual Size", "titleX": 435, "titleY": 65, "titleAlign": "center", "titleBaseline": "middle"}},
      "y": {"field": "y", "type": "quantitative", "scale": {"domain": [-0.897, 1.084], "nice": false, "zero": false},
            "axis": {"values": [-0.75,-0.5,-0.25,0,0.25,0.5,0.75,1], "format": ".1f", "labelPadding": 5, "labelExpr": "abs(datum.value*2 - round(datum.value*2)) < 0.001 ? datum.label : ''", "gridWidth": {"condition": {"test": "abs(datum.value*2 - round(datum.value*2)) > 0.001", "value": 0.8}, "value": 1.6}, "tickOpacity": {"condition": {"test": "abs(datum.value*2 - round(datum.value*2)) > 0.001", "value": 0}, "value": 1}, "title": null}}
     }},
    {"data": {"values": [{"v": 0}]}, "mark": {"type": "rule", "color": "black", "strokeWidth": 1.6},
     "encoding": {"y": {"field": "v", "type": "quantitative"}}},
    {"data": {"name": "Cavg"}, "mark": {"type": "rule", "color": "black", "strokeWidth": 2.5},
     "encoding": {"x": {"field": "x", "type": "quantitative"}, "y": {"field": "lo", "type": "quantitative"}, "y2": {"field": "hi"}}},
    {"data": {"name": "Cavg"}, "mark": {"type": "square", "size": 380, "color": "black", "opacity": 1},
     "encoding": {"x": {"field": "x", "type": "quantitative"}, "y": {"field": "y", "type": "quantitative"}}},
    {"data": {"name": "Cline"}, "mark": {"type": "line", "strokeWidth": 9, "opacity": 0.85, "strokeCap": "butt"},
     "encoding": {"x": {"field": "x", "type": "quantitative"}, "y": {"field": "y", "type": "quantitative"},
      "stroke": {"field": "s", "type": "nominal", "scale": {"domain": ["Model Predictions"], "range": ["#F58B3C"]},
       "legend": {"title": "Model Predictions", "orient": "none", "legendX": 0, "legendY": 1060, "titleOrient": "left", "titleAnchor": "middle", "titleBaseline": "middle", "titleFont": "Liberation Sans", "titleFontSize": 18.5, "titleFontWeight": "bold", "titleColor": "black", "titleLimit": 400, "titlePadding": 22, "labelExpr": "''", "symbolType": "M-6.55,0H6.55", "symbolSize": 324, "symbolOffset": 145, "symbolStrokeWidth": 9}}}},
    {"data": {"values": [{"k": "ind"}, {"k": "avg"}]}, "mark": {"type": "point", "filled": true, "opacity": 0},
     "encoding": {
      "shape": {"field": "k", "type": "nominal", "scale": {"domain": ["ind", "avg"], "range": ["M0.94,0A0.94,0.94,0,1,1,-0.94,0A0.94,0.94,0,1,1,0.94,0Z", "M-1,-1H1V1H-1Z M-0.14,-2.6H0.14V2.6H-0.14Z"]},
       "legend": {"title": "Respondent Estimates", "orient": "none", "legendX": 0, "legendY": 1005, "direction": "horizontal", "titleOrient": "left", "titleAnchor": "middle", "titleBaseline": "middle", "titleFont": "Liberation Sans", "titleFontSize": 18.5, "titleFontWeight": "bold", "titleColor": "black", "titleLimit": 400, "titlePadding": 28, "labelFont": "Liberation Sans", "labelFontSize": 19, "labelColor": "black", "labelOffset": 19, "labelLimit": 400, "columnPadding": 24, "symbolSize": 324, "symbolStrokeWidth": 0, "symbolOpacity": 1,
        "labelExpr": "datum.value === 'ind' ? ['Individual Estimates', '(One Per Respondent-Estimate)'] : ['Average Estimates with 95% CIs', '(Binned by Actual Size of Group)']"}},
      "color": {"field": "k", "type": "nominal", "scale": {"domain": ["ind", "avg"], "range": ["#8C8C8C", "black"]},
       "legend": {"title": "Respondent Estimates", "orient": "none", "legendX": 0, "legendY": 1005, "direction": "horizontal", "titleOrient": "left", "titleAnchor": "middle", "titleBaseline": "middle", "titleFont": "Liberation Sans", "titleFontSize": 18.5, "titleFontWeight": "bold", "titleColor": "black", "titleLimit": 400, "titlePadding": 28, "labelFont": "Liberation Sans", "labelFontSize": 19, "labelColor": "black", "labelOffset": 19, "labelLimit": 400, "columnPadding": 24, "symbolSize": 324, "symbolStrokeWidth": 0, "symbolOpacity": 1,
        "labelExpr": "datum.value === 'ind' ? ['Individual Estimates', '(One Per Respondent-Estimate)'] : ['Average Estimates with 95% CIs', '(Binned by Actual Size of Group)']"}}
     }}
   ]
  },
  {
   "title": {"text": "D) Estimates of National Out-Groups", "fontSize": 26, "fontWeight": "normal", "color": "black", "font": "Liberation Sans", "anchor": "middle", "offset": 10, "dx": -6},
   "width": 400, "height": 380,
   "layer": [
    {"data": {"name": "D"}, "mark": {"type": "circle", "size": 72, "color": "black", "opacity": 0.18},
     "encoding": {
      "x": {"field": "x", "type": "quantitative", "scale": {"domain": [-1.56, 2.93], "nice": false, "zero": false},
            "axis": {"values": [-1.5,-1,-0.5,0,0.5,1,1.5,2,2.5], "format": ".0f", "labelPadding": 3, "labelExpr": "abs(datum.value - round(datum.value)) < 0.001 ? datum.label : ''", "gridWidth": {"condition": {"test": "abs(datum.value - round(datum.value)) > 0.001", "value": 0.8}, "value": 1.6}, "tickOpacity": {"condition": {"test": "abs(datum.value - round(datum.value)) > 0.001", "value": 0}, "value": 1}, "title": null}},
      "y": {"field": "y", "type": "quantitative", "scale": {"domain": [-0.826, 1.036], "nice": false, "zero": false},
            "axis": {"values": [-0.75,-0.5,-0.25,0,0.25,0.5,0.75,1], "format": ".1f", "labelPadding": 5, "labelExpr": "abs(datum.value*2 - round(datum.value*2)) < 0.001 ? datum.label : ''", "gridWidth": {"condition": {"test": "abs(datum.value*2 - round(datum.value*2)) > 0.001", "value": 0.8}, "value": 1.6}, "tickOpacity": {"condition": {"test": "abs(datum.value*2 - round(datum.value*2)) > 0.001", "value": 0}, "value": 1}, "title": null}}
     }},
    {"data": {"values": [{"v": 0}]}, "mark": {"type": "rule", "color": "black", "strokeWidth": 1.6},
     "encoding": {"y": {"field": "v", "type": "quantitative"}}},
    {"data": {"name": "Davg"}, "mark": {"type": "rule", "color": "black", "strokeWidth": 2.5},
     "encoding": {"x": {"field": "x", "type": "quantitative"}, "y": {"field": "lo", "type": "quantitative"}, "y2": {"field": "hi"}}},
    {"data": {"name": "Davg"}, "mark": {"type": "square", "size": 380, "color": "black", "opacity": 1},
     "encoding": {"x": {"field": "x", "type": "quantitative"}, "y": {"field": "y", "type": "quantitative"}}},
    {"data": {"name": "Dline"}, "mark": {"type": "line", "color": "#F58B3C", "strokeWidth": 9, "opacity": 0.85, "strokeCap": "butt"},
     "encoding": {"x": {"field": "x", "type": "quantitative"}, "y": {"field": "y", "type": "quantitative"}}}
   ]
  }
 ]
}
]
}
